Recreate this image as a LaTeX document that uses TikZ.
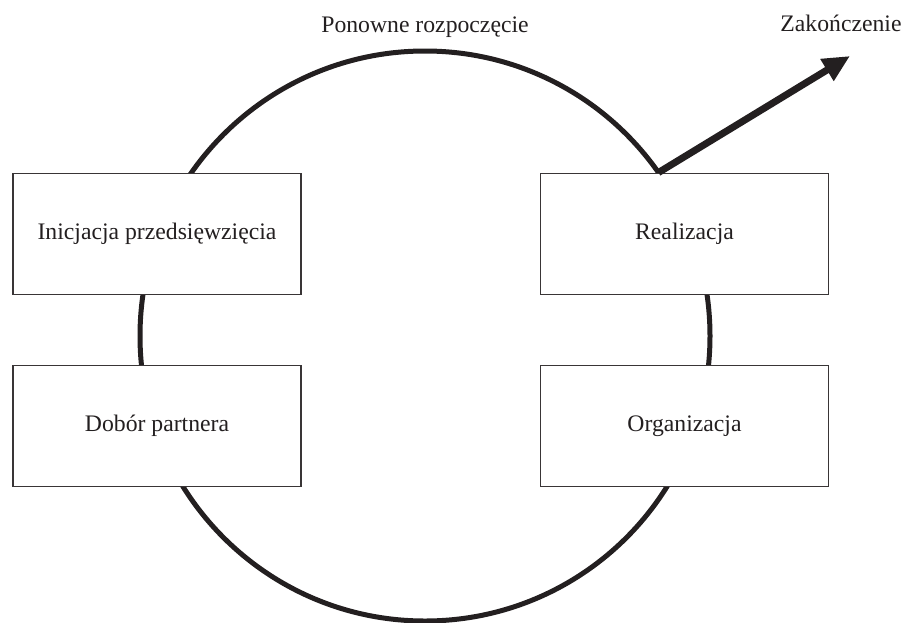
\documentclass[tikz,border=0pt]{standalone}
\usepackage{fontspec}
\setmainfont{Liberation Serif}
\usetikzlibrary{arrows.meta}
\definecolor{ink}{HTML}{231F20}
\begin{document}
\begin{tikzpicture}[x=1pt,y=-1pt,
  every node/.style={text=ink,font=\fontsize{23.7}{28}\selectfont},
  stage/.style={draw=ink!90,line width=1.6pt,fill=white,minimum width=288pt,minimum height=121pt,inner sep=0pt},
  ringstyle/.style={draw=ink,line width=5pt,circle,minimum size=570pt,inner sep=0pt,outer sep=0pt},
  exitarrow/.style={draw=ink,line width=7pt,-{Triangle[length=27pt,width=24pt]}}]
\useasboundingbox (0,0) rectangle (905,622);
% the cycle
\node[ringstyle] (ring) at (425,336) {};
% stages placed over the cycle
\node[stage] (init) at (157,234) {Inicjacja przedsięwzięcia};
\node[stage] (partner) at (157,426) {Dobór partnera};
\node[stage] (real) at (684.5,234) {Realizacja};
\node[stage] (org) at (684.5,426) {Organizacja};
% labels
\node[anchor=base] (restart) at (425,32) {Ponowne rozpoczęcie};
\node[anchor=base] (endlabel) at (841,31) {Zakończenie};
% exit from the cycle
\coordinate (exitend) at (850,56);
\draw[exitarrow] (ring.35) -- (exitend);
\end{tikzpicture}
\end{document}
